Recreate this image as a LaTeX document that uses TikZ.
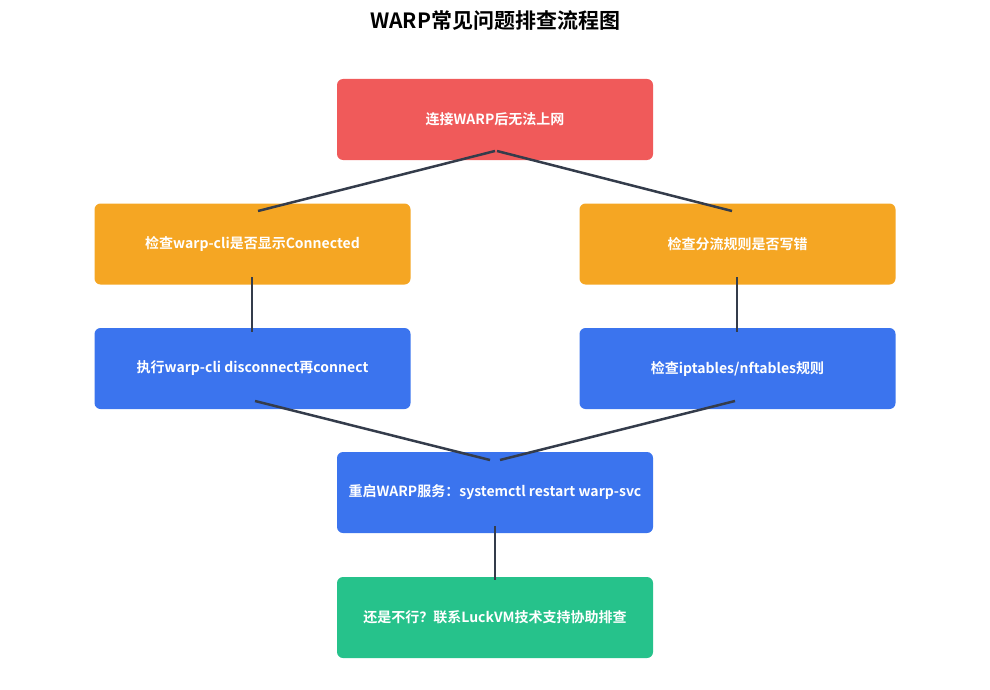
\documentclass[tikz,border=0pt]{standalone}
\usepackage{fontspec}
\setmainfont{Noto Sans CJK SC}[BoldFont={* Bold}]
\newfontfamily\cjk{Noto Sans CJK SC}
\definecolor{cred}{HTML}{F05A5A}
\definecolor{corange}{HTML}{F5A623}
\definecolor{cblue}{HTML}{3B74EE}
\definecolor{cgreen}{HTML}{26C28B}
\definecolor{cline}{HTML}{343C4B}
\begin{document}
\begin{tikzpicture}[x=1pt,y=-1pt,
  box/.style={rectangle,rounded corners=6pt,minimum width=316pt,minimum height=81pt,text=white,font=\bfseries\fontsize{14}{16}\selectfont,inner sep=0pt},
  conn/.style={draw=cline,line width=2.5pt}]
\useasboundingbox (0,0) rectangle (990,690);
\node[font=\bfseries\fontsize{21}{24}\selectfont] (title) at (495,21) {WARP常见问题排查流程图};
\node[box,fill=cred] (a) at (495,119.5) {连接WARP后无法上网};
\node[box,fill=corange] (b) at (252.5,244) {检查warp-cli是否显示Connected};
\node[box,fill=corange] (c) at (737.5,244) {检查分流规则是否写错};
\node[box,fill=cblue] (d) at (252.5,368.5) {执行warp-cli disconnect再connect};
\node[box,fill=cblue] (e) at (737.5,368.5) {检查iptables/nftables规则};
\node[box,fill=cblue] (f) at (495,492.5) {重启WARP服务：systemctl restart warp-svc};
\node[box,fill=cgreen] (g) at (495,617.5) {还是不行？联系LuckVM技术支持协助排查};
\coordinate (a1) at (495,151); \coordinate (a2) at (497,151);
\coordinate (b1) at (258,211); \coordinate (c1) at (732,211);
\coordinate (b2) at (252,277); \coordinate (d1) at (252,332);
\coordinate (c2) at (737,277); \coordinate (e1) at (737,332);
\coordinate (d2) at (255,401); \coordinate (e2) at (735,401);
\coordinate (f1) at (490,460); \coordinate (f2) at (500,460);
\coordinate (f3) at (495,526); \coordinate (g1) at (495,580);
\draw[conn] (a1) -- (b1);
\draw[conn] (a2) -- (c1);
\draw[conn] (b2) -- (d1);
\draw[conn] (c2) -- (e1);
\draw[conn] (d2) -- (f1);
\draw[conn] (e2) -- (f2);
\draw[conn] (f3) -- (g1);
\end{tikzpicture}
\end{document}
